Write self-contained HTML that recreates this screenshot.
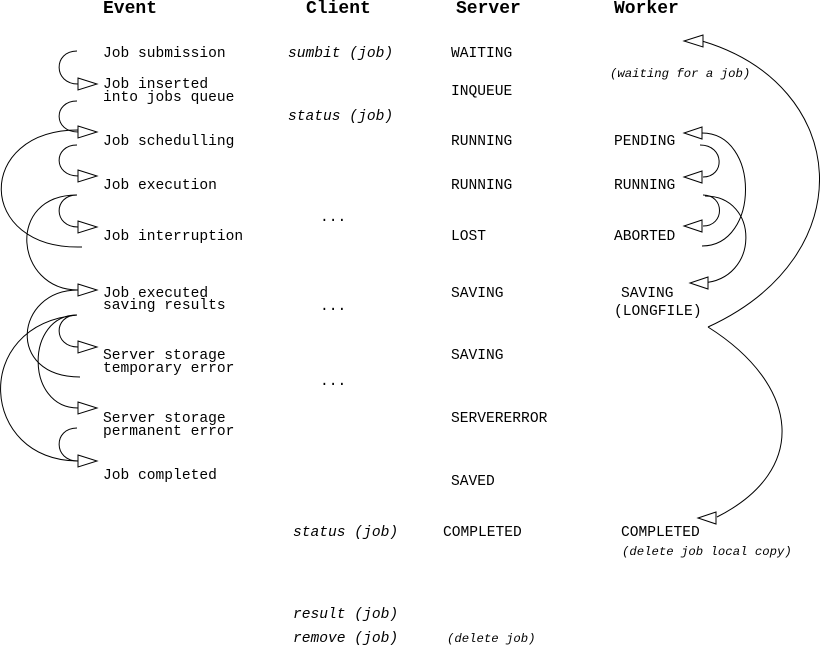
<!DOCTYPE html>
<html><head><meta charset="utf-8"><style>
html,body{margin:0;padding:0;background:#fff;}
svg{display:block;}
text{font-family:"Liberation Mono",monospace;font-size:14.6px;fill:#000;}
.h{font-size:18px;font-weight:bold;}
.i{font-style:italic;}
.s{font-size:12.3px;font-style:italic;}
path{fill:none;stroke:#000;stroke-width:1;}
polygon{fill:#fff;stroke:#000;stroke-width:1;}
</style></head><body>
<svg width="820" height="647" viewBox="0 0 820 647" xmlns="http://www.w3.org/2000/svg">
<text class="h" x="103" y="13">Event</text>
<text class="h" x="306" y="13">Client</text>
<text class="h" x="456" y="13">Server</text>
<text class="h" x="614" y="13">Worker</text>

<text x="103" y="57">Job submission</text>
<text x="103" y="88">Job inserted</text>
<text x="103" y="101">into jobs queue</text>
<text x="103" y="145">Job schedulling</text>
<text x="103" y="189">Job execution</text>
<text x="103" y="240">Job interruption</text>
<text x="103" y="297">Job executed</text>
<text x="103" y="309">saving results</text>
<text x="103" y="359">Server storage</text>
<text x="103" y="372">temporary error</text>
<text x="103" y="422">Server storage</text>
<text x="103" y="435">permanent error</text>
<text x="103" y="479">Job completed</text>

<text class="i" x="288" y="57">sumbit (job)</text>
<text class="i" x="288" y="120">status (job)</text>
<text x="320" y="221">...</text>
<text x="320" y="310">...</text>
<text x="320" y="385">...</text>
<text class="i" x="293" y="536">status (job)</text>
<text class="i" x="293" y="618">result (job)</text>
<text class="i" x="293" y="642">remove (job)</text>

<text x="451" y="57">WAITING</text>
<text x="451" y="95">INQUEUE</text>
<text x="451" y="145">RUNNING</text>
<text x="451" y="189">RUNNING</text>
<text x="451" y="240">LOST</text>
<text x="451" y="297">SAVING</text>
<text x="451" y="359">SAVING</text>
<text x="451" y="422">SERVERERROR</text>
<text x="451" y="485">SAVED</text>
<text x="443" y="536">COMPLETED</text>
<text class="s" x="447" y="642">(delete job)</text>

<text class="s" x="610" y="77">(waiting for a job)</text>
<text x="614" y="145">PENDING</text>
<text x="614" y="189">RUNNING</text>
<text x="614" y="240">ABORTED</text>
<text x="621" y="297">SAVING</text>
<text x="614" y="315">(LONGFILE)</text>
<text x="621" y="536">COMPLETED</text>
<text class="s" x="622" y="555">(delete job local copy)</text>

<!-- left connectors -->
<path d="M77,51 C53,51 53,84 78,84"/>
<path d="M77,101 C53,101 53,132 78,132"/>
<path d="M77,145 C53,145 53,176 78,176"/>
<path d="M77,195 C53,195 53,227 78,227"/>
<path d="M82,247 C-25,250 -25,130 78,130"/>
<path d="M77,195 C5,195 15,290 78,290"/>
<path d="M77,315 C53,315 53,347 78,347"/>
<path d="M80,377 C5,377 15,290 78,290"/>
<path d="M77,315 C25,315 25,408 78,408"/>
<path d="M77,315 C-30,325 -20,461 78,461"/>
<path d="M77,428 C53,428 53,461 78,461"/>
<polygon points="78,78 97,84 78,90"/>
<polygon points="78,126 97,132 78,138"/>
<polygon points="78,170 97,176 78,182"/>
<polygon points="78,221 97,227 78,233"/>
<polygon points="78,284 97,290 78,296"/>
<polygon points="78,341 97,347 78,353"/>
<polygon points="78,402 97,408 78,414"/>
<polygon points="78,455 97,461 78,467"/>

<!-- right connectors -->
<path d="M702,41 C850,85 865,255 708,327"/>
<path d="M708,327 C800,385 810,470 717,517"/>
<path d="M700,145 C725,145 725,177 703,177"/>
<path d="M703,195 C725,195 725,226 703,226"/>
<path d="M702,246 C760,246 760,133 702,133"/>
<path d="M705,196 C760,196 760,280 702,283"/>
<polygon points="703,35 684,41 703,47"/>
<polygon points="702,127 684,133 702,139"/>
<polygon points="702,171 684,177 702,183"/>
<polygon points="702,220 684,226 702,232"/>
<polygon points="708,277 690,283 708,289"/>
<polygon points="716,512 698,518 716,524"/>
</svg>
</body></html>
